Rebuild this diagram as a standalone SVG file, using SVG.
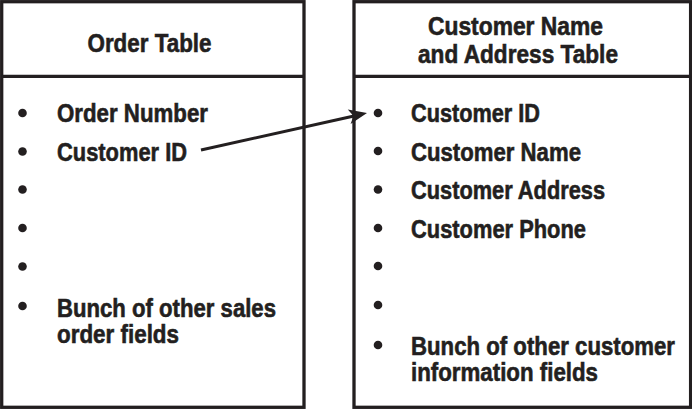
<svg xmlns="http://www.w3.org/2000/svg" width="692" height="409" viewBox="0 0 692 409">
<style>
.box{fill:#fff;stroke:#231f20;stroke-width:3.3}
.div{stroke:#231f20;stroke-width:3.3}
.t{font-family:"Liberation Sans",Arial,sans-serif;font-weight:bold;font-size:26px;fill:#231f20;stroke:#231f20;stroke-width:0.6}
.b{fill:#231f20}
.c{stroke:#231f20;stroke-width:3;fill:none}
</style>
<rect width="692" height="409" fill="#fff"/>
<g id="order-table">
<rect class="box" x="1.7" y="1.7" width="302.3" height="405.6"/>
<line class="div" x1="1.7" y1="76.3" x2="304" y2="76.3"/>
<text class="t" x="87.5" y="51.5" textLength="124" lengthAdjust="spacingAndGlyphs">Order Table</text>
<circle class="b" cx="22.5" cy="113" r="4.3"/>
<circle class="b" cx="22.5" cy="151.5" r="4.3"/>
<circle class="b" cx="22.5" cy="189.5" r="4.3"/>
<circle class="b" cx="22.5" cy="228" r="4.3"/>
<circle class="b" cx="22.5" cy="266.5" r="4.3"/>
<circle class="b" cx="22.5" cy="306" r="4.3"/>
<text class="t" x="57" y="122" textLength="151" lengthAdjust="spacingAndGlyphs">Order Number</text>
<text class="t" x="57" y="160.5" textLength="130" lengthAdjust="spacingAndGlyphs">Customer ID</text>
<text class="t" x="57" y="316.5" textLength="219" lengthAdjust="spacingAndGlyphs">Bunch of other sales</text>
<text class="t" x="57" y="342.5" textLength="122" lengthAdjust="spacingAndGlyphs">order fields</text>
</g>
<g id="customer-table">
<rect class="box" x="354" y="1.7" width="336.6" height="405.6"/>
<line class="div" x1="354" y1="76.3" x2="690.6" y2="76.3"/>
<text class="t" x="428" y="35" textLength="175" lengthAdjust="spacingAndGlyphs">Customer Name</text>
<text class="t" x="418" y="63.3" textLength="200" lengthAdjust="spacingAndGlyphs">and Address Table</text>
<circle class="b" cx="378" cy="113" r="4.3"/>
<circle class="b" cx="378" cy="151" r="4.3"/>
<circle class="b" cx="378" cy="189.5" r="4.3"/>
<circle class="b" cx="378" cy="228" r="4.3"/>
<circle class="b" cx="378" cy="266" r="4.3"/>
<circle class="b" cx="378" cy="305" r="4.3"/>
<circle class="b" cx="378" cy="345" r="4.3"/>
<text class="t" x="411" y="122" textLength="129" lengthAdjust="spacingAndGlyphs">Customer ID</text>
<text class="t" x="411" y="160.5" textLength="170" lengthAdjust="spacingAndGlyphs">Customer Name</text>
<text class="t" x="411" y="199" textLength="194" lengthAdjust="spacingAndGlyphs">Customer Address</text>
<text class="t" x="411" y="237.5" textLength="175" lengthAdjust="spacingAndGlyphs">Customer Phone</text>
<text class="t" x="411" y="355" textLength="264" lengthAdjust="spacingAndGlyphs">Bunch of other customer</text>
<text class="t" x="411" y="381" textLength="187" lengthAdjust="spacingAndGlyphs">information fields</text>
</g>
<g id="connectors">
<line class="c" x1="201" y1="150" x2="354" y2="116"/>
<polygon class="b" points="367,113 350.6,124 353.5,116 347.8,109.5"/>
</g>
</svg>
